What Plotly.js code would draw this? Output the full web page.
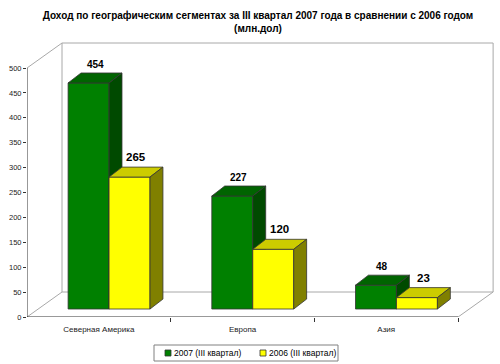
<!DOCTYPE html>
<html>
<head>
<meta charset="utf-8">
<script src="https://cdn.plot.ly/plotly-3.0.1.min.js"></script>
<style>html,body{margin:0;padding:0;background:#fff;}#chart{width:500px;height:364px;}</style>
</head>
<body>
<div id="chart"></div>
<script>
const categories = ['Северная Америка', 'Европа', 'Азия'];
const values2007 = [454, 227, 48];
const values2006 = [265, 120, 23];
const seriesNames = ['2007 (III квартал)', '2006 (III квартал)'];
const yTickValues = [0, 50, 100, 150, 200, 250, 300, 350, 400, 450, 500];
const titleLines = ['Доход по географическим сегментах за III квартал 2007 года в сравнении с 2006 годом', '(млн.дол)'];

// 3D projection parameters (in axis units)
const wallDX = 0.2436, wallDY = 50.2;   // full floor depth
const frontDX = 0.071, frontDY = 16;    // bar front-face offset
const barDX = 0.09, barDY = 20;         // bar depth
const barW = 0.285;
const yMax = 500;

const colors = {
  g: {front: '#008000', top: '#006400', side: '#004a00'},
  y: {front: '#ffff00', top: '#cccc00', side: '#808000'}
};
const edge = '#333333';
const font = 'Arial, "Liberation Sans", sans-serif';

// plot-area geometry (pixels) for paper-coordinate helpers
const M = {l: 27, r: 6, t: 42, b: 47};
const W = 500, H = 364;
const PW = W - M.l - M.r, PH = H - M.t - M.b;
const px = x => (x - M.l) / PW;
const py = y => (H - M.b - y) / PH;

function faces(values, x0off, col, xa, ya) {
  const tr = [];
  values.forEach((v, i) => {
    const x0 = i + frontDX + x0off, x1 = x0 + barW;
    const b = frontDY, t = frontDY + v;
    tr.push({type: 'scatter', mode: 'lines', xaxis: xa, yaxis: ya, fill: 'toself', fillcolor: col.top,
      line: {color: edge, width: 0.8}, hoverinfo: 'skip', showlegend: false,
      x: [x0, x0 + barDX, x1 + barDX, x1, x0], y: [t, t + barDY, t + barDY, t, t]});
    tr.push({type: 'scatter', mode: 'lines', xaxis: xa, yaxis: ya, fill: 'toself', fillcolor: col.side,
      line: {color: edge, width: 0.8}, hoverinfo: 'skip', showlegend: false,
      x: [x1, x1 + barDX, x1 + barDX, x1, x1], y: [b, b + barDY, t + barDY, t, b]});
  });
  return tr;
}

const xs = categories.map((c, i) => i);
const traces = [];
traces.push({type: 'bar', name: seriesNames[0], x: xs.map(i => i + frontDX - barW / 2), y: values2007,
  base: frontDY, width: barW, marker: {color: colors.g.front, line: {color: edge, width: 0.8}},
  hoverinfo: 'skip', xaxis: 'x', yaxis: 'y', showlegend: false});
traces.push(...faces(values2007, -barW, colors.g, 'x', 'y'));
traces.push({type: 'bar', name: seriesNames[1], x: xs.map(i => i + frontDX + barW / 2), y: values2006,
  base: frontDY, width: barW, marker: {color: colors.y.front, line: {color: edge, width: 0.8}},
  hoverinfo: 'skip', xaxis: 'x2', yaxis: 'y2', showlegend: false});
traces.push(...faces(values2006, 0, colors.y, 'x2', 'y2'));

const xRange = [-0.5, -0.5 + PW / 143.7];
const yRange = [0, PH / 0.498];
const wall = '#a8a8a8';
const L = -0.5, R = categories.length - 0.5;
const shapes = [
  {type: 'line', x0: L + wallDX, y0: wallDY, x1: L + wallDX, y1: yMax + wallDY},
  {type: 'line', x0: L + wallDX, y0: yMax + wallDY, x1: R + wallDX, y1: yMax + wallDY},
  {type: 'line', x0: R + wallDX, y0: yMax + wallDY, x1: R + wallDX, y1: wallDY},
  {type: 'line', x0: L + wallDX, y0: wallDY, x1: R + wallDX, y1: wallDY},
  {type: 'line', x0: L, y0: yMax, x1: L + wallDX, y1: yMax + wallDY},
  {type: 'line', x0: L, y0: 0, x1: L + wallDX, y1: wallDY},
  {type: 'line', x0: R, y0: 0, x1: R + wallDX, y1: wallDY}
].map(s => Object.assign(s, {xref: 'x', yref: 'y', layer: 'below', line: {color: wall, width: 1}}));
shapes.push({type: 'line', xref: 'x', yref: 'y', x0: L, y0: 0, x1: L, y1: yMax, line: {color: edge, width: 1}, layer: 'above'});
shapes.push({type: 'line', xref: 'x', yref: 'y', x0: L, y0: 0, x1: R, y1: 0, line: {color: edge, width: 1}, layer: 'above'});

// legend (box + swatches)
shapes.push({type: 'rect', xref: 'paper', yref: 'paper', x0: px(154), x1: px(338), y0: py(361), y1: py(345),
  line: {color: '#808080', width: 1}, fillcolor: '#fff'});
shapes.push({type: 'rect', xref: 'paper', yref: 'paper', x0: px(165), x1: px(171), y0: py(356), y1: py(350),
  line: {color: edge, width: 0.8}, fillcolor: colors.g.front});
shapes.push({type: 'rect', xref: 'paper', yref: 'paper', x0: px(260), x1: px(266), y0: py(356), y1: py(350),
  line: {color: edge, width: 0.8}, fillcolor: colors.y.front});

const annotations = [];
values2007.forEach((v, i) => annotations.push({xref: 'x', yref: 'y', x: i + frontDX - barW / 2 + barDX / 2,
  y: frontDY + v + barDY, text: '<b>' + v + '</b>', showarrow: false, yanchor: 'bottom', yshift: 1,
  font: {family: font, size: 10, color: '#000'}}));
values2006.forEach((v, i) => annotations.push({xref: 'x', yref: 'y', x: i + frontDX + barW / 2 + barDX / 2,
  y: frontDY + v + barDY, text: '<b>' + v + '</b>', showarrow: false, yanchor: 'bottom', yshift: 2,
  font: {family: font, size: 11.5, color: '#000'}}));
annotations.push({xref: 'paper', yref: 'paper', x: px(172), y: py(353), xanchor: 'left', yanchor: 'middle',
  text: seriesNames[0], showarrow: false, font: {family: font, size: 8.5, color: '#000'}});
annotations.push({xref: 'paper', yref: 'paper', x: px(267), y: py(353), xanchor: 'left', yanchor: 'middle',
  text: seriesNames[1], showarrow: false, font: {family: font, size: 8.5, color: '#000'}});

const layout = {
  width: W, height: H,
  margin: M,
  paper_bgcolor: '#fff', plot_bgcolor: 'rgba(0,0,0,0)',
  font: {family: font, color: '#222'},
  barmode: 'overlay',
  showlegend: false,
  title: {text: titleLines.map(t => '<b>' + t + '</b>').join('<br>'),
    font: {family: font, size: 10, color: '#000'},
    xref: 'container', x: 0.516, xanchor: 'center', yref: 'container', y: 1 - 18.5 / 364, yanchor: 'middle'},
  xaxis: {range: xRange, tickmode: 'array', tickvals: xs, ticktext: categories, ticks: '',
    showgrid: false, zeroline: false, showline: false, tickfont: {size: 8, color: '#222'}, ticklabelstandoff: 6,
    minor: {tickmode: 'array', tickvals: [0.5, 1.5, 2.5], ticks: 'outside', ticklen: 4, tickcolor: edge, showgrid: false}},
  yaxis: {range: yRange, tickmode: 'array', tickvals: yTickValues, ticktext: yTickValues.map(String),
    ticks: 'outside', ticklen: 3, tickcolor: edge, showgrid: false, zeroline: false, showline: false,
    tickfont: {size: 7.5, color: '#222'}},
  xaxis2: {range: xRange, overlaying: 'x', visible: false},
  yaxis2: {range: yRange, overlaying: 'y', visible: false},
  shapes: shapes,
  annotations: annotations
};

Plotly.newPlot('chart', traces, layout, {displayModeBar: false, staticPlot: true});
</script>
</body>
</html>
